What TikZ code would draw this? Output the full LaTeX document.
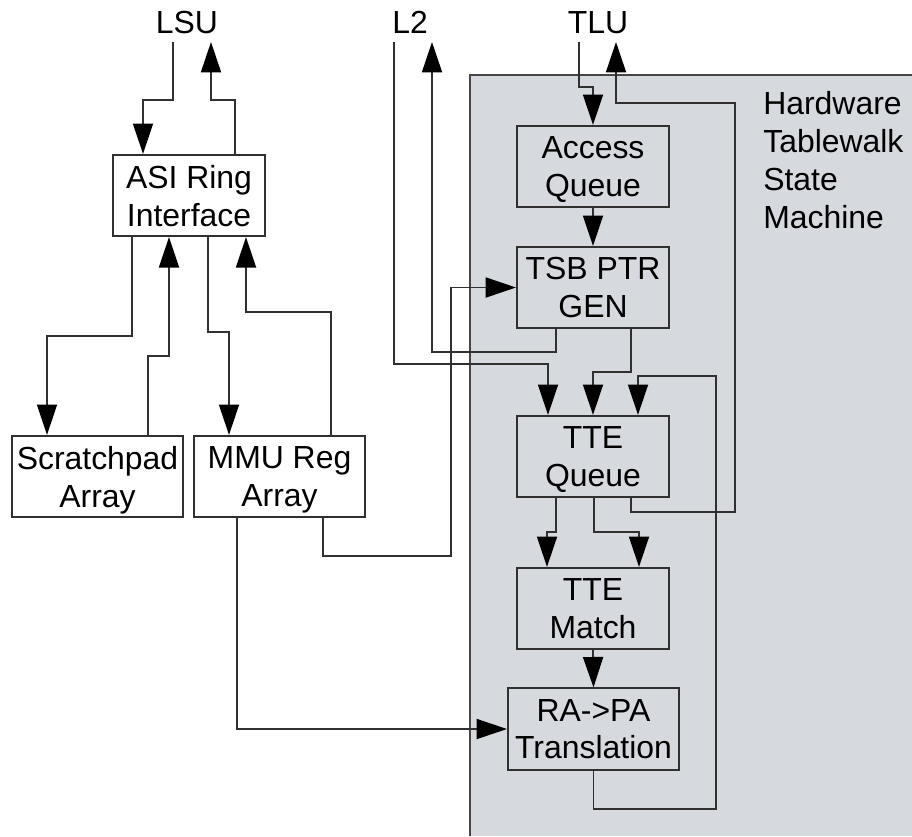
\documentclass[tikz,border=0pt]{standalone}
\usepackage{fontspec}
\setmainfont{Liberation Sans}
\usetikzlibrary{arrows.meta}
\definecolor{fsmgray}{HTML}{D6D9DD}
\definecolor{wire}{HTML}{303030}
\begin{document}
\begin{tikzpicture}[x=0.025cm, y=-0.025cm, every node/.style={font=\fontsize{22.7}{27}\selectfont},
  blk/.style={draw=wire,line width=1.4pt,minimum height=2.03cm,inner sep=0pt,align=center,text depth=0pt},
  lbl/.style={inner sep=0.2cm},
  arr/.style={-{Triangle[length=0.76cm,width=0.5cm,color=black]},draw=wire,line width=1.3pt}]
\useasboundingbox (0,0) rectangle (912,836);
% tablewalk area
\fill[fsmgray] (470,75) rectangle (912,836);
\draw[gray!55!black,line width=1.8pt] (470,836) -- (470,75) -- (912,75);
\node[anchor=north west,inner sep=0pt,align=left] (hwtw) at (763,91) {Hardware\\Tablewalk\\State\\Machine};
\node[lbl,anchor=south] (lsu) at (187,42) {LSU};
\node[lbl,anchor=south] (l2) at (410,42) {L2};
\node[lbl,anchor=south] (tlu) at (598,42) {TLU};
\node[blk,fill=white,minimum width=3.8cm] (asi) at (189,195.5) {ASI Ring\\Interface};
\node[blk,fill=white,minimum width=4.275cm] (spad) at (97.5,476.5) {Scratchpad\\Array};
\node[blk,fill=white,minimum width=4.275cm] (mmu) at (279.5,476.5) {MMU Reg\\Array};
\node[blk,minimum width=3.8cm] (acq) at (593,166.5) {Access\\Queue};
\node[blk,minimum width=3.8cm] (tsb) at (593,287.5) {TSB PTR\\GEN};
\node[blk,minimum width=3.8cm] (tteq) at (593,456.5) {TTE\\Queue};
\node[blk,minimum width=3.8cm] (ttem) at (593,608.5) {TTE\\Match};
\node[blk,minimum width=4.275cm] (ra) at (593.5,729) {RA->PA\\Translation};
% ASI ring side
\draw[arr] (lsu.south -| 173,0) |- (143,100) -- (asi.north -| 143,0);
\draw[arr] (asi.north -| 235,0) |- (211,100) -- (lsu.south -| 211,0);
\draw[arr] (asi.south -| 132,0) |- (47,336) -- (spad.north -| 47,0);
\draw[arr] (spad.north -| 148,0) |- (169,356) -- (asi.south -| 169,0);
\draw[arr] (asi.south -| 208,0) |- (229,332) -- (mmu.north -| 229,0);
\draw[arr] (mmu.north -| 331,0) |- (246,312) -- (asi.south -| 246,0);
\draw[arr] (mmu.south -| 323,0) |- (451,556) |- (tsb.west);
\draw[arr] (mmu.south -| 237,0) |- (ra.west);
% L2 and TLU
\draw[arr] (l2.south -| 394,0) |- (548,364) -- (tteq.north -| 548,0);
\draw[arr] (tsb.south -| 556,0) |- (432,352) -- (l2.south -| 432,0);
\draw[arr] (tlu.south -| 579,0) |- (593,87) -- (acq.north);
\draw[arr] (tteq.south -| 631,0) |- (735,512) |- (616,103) -- (tlu.south -| 616,0);
% state machine
\draw[arr] (acq.south) -- (tsb.north);
\draw[arr] (tsb.south -| 631,0) |- (593,372) -- (tteq.north);
\draw[arr] (ra.south) |- (716,809) |- (638,376) -- (tteq.north -| 638,0);
\draw[arr] (tteq.south -| 556,0) |- (547,532) -- (ttem.north -| 547,0);
\draw[arr] (tteq.south -| 594,0) |- (639,532) -- (ttem.north -| 639,0);
\draw[arr] (ttem.south) -- (ra.north);
\end{tikzpicture}
\end{document}
